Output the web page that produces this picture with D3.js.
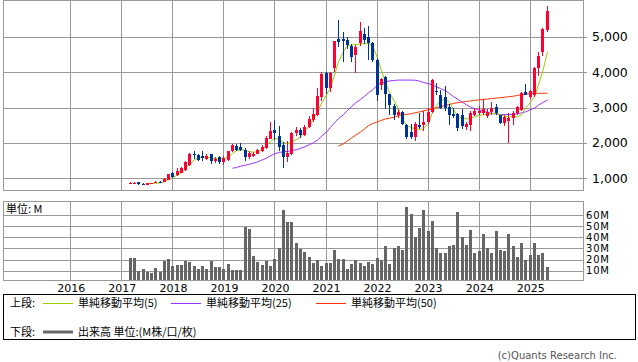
<!DOCTYPE html>
<html>
<head>
<meta charset="utf-8">
<script src="https://cdn.jsdelivr.net/npm/d3@7/dist/d3.min.js"></script>
<style>
  body { margin: 0; background: #fff; }
  svg { display: block; }
  text { font-family: 'DejaVu Sans', sans-serif; fill: #000; }
  .jp { font-family: 'Noto Sans CJK JP', sans-serif; }
</style>
</head>
<body>
<div class="chart"></div>
<script>
'use strict';
// monthly bars, Mar 2017 .. May 2025
var firstMonth = new Date(2017, 2, 1);
var lastMonth = new Date(2025, 4, 1);

var openP = [
  840, 855, 885, 840, 820, 850, 865, 905, 895, 960,
  1150, 1095, 1160, 1240, 1370, 1700, 1660, 1620, 1550, 1690,
  1480, 1590, 1470, 1520, 1760, 1920, 1900, 1810, 1600, 1640,
  1700, 1760, 1860, 2120, 2360, 2210, 1940, 1600, 1680, 2290,
  2380, 2230, 2460, 2650, 2790, 3290, 3990, 3570, 4110, 4930,
  4930, 4910, 4740, 4490, 4820, 5080, 4990, 4820, 4350, 3640,
  3860, 3390, 3050, 2800, 2890, 2510, 2320, 2180, 2510, 2510,
  2600, 2890, 3480, 3360, 3290, 3030, 2820, 2820, 2790, 2460,
  2510, 2790, 2860, 2840, 2750, 2890, 3010, 2790, 2560, 2630,
  2700, 2840, 2930, 3450, 3290, 3360, 4110, 4580, 5200
];
var highP = [
  890, 895, 895, 870, 870, 880, 910, 930, 1000, 1130,
  1190, 1290, 1330, 1500, 1720, 1770, 1700, 1760, 1680, 1700,
  1600, 1640, 1620, 1780, 1960, 1960, 2000, 1870, 1760, 1740,
  1830, 1950, 2200, 2600, 2650, 2480, 2030, 2050, 2300, 2450,
  2420, 2500, 2750, 3000, 3550, 4000, 4000, 4000, 4900, 5480,
  5150, 5000, 4800, 4780, 5430, 5250, 5310, 4850, 4400, 3850,
  3900, 3400, 3100, 2950, 2900, 2550, 2550, 2580, 2850, 2900,
  3000, 3800, 3700, 3500, 3600, 3100, 3000, 2850, 2950, 2600,
  2900, 3000, 3050, 3250, 2950, 3150, 3100, 2800, 2800, 2850,
  2900, 3050, 3450, 3670, 3500, 4150, 4580, 5250, 5880
];
var lowP = [
  830, 845, 820, 800, 810, 840, 855, 870, 890, 950,
  1020, 1060, 1140, 1220, 1360, 1560, 1480, 1480, 1520, 1400,
  1440, 1400, 1380, 1500, 1740, 1760, 1760, 1500, 1560, 1600,
  1680, 1740, 1840, 2100, 2080, 1760, 1280, 1450, 1650, 2200,
  2150, 2200, 2420, 2600, 2750, 3200, 3400, 3450, 4000, 4720,
  4300, 4650, 4300, 3970, 4750, 4800, 4350, 4300, 3200, 3500,
  2950, 2800, 2650, 2700, 2500, 2100, 2100, 2060, 2400, 2350,
  2550, 2850, 3350, 2950, 2900, 2500, 2700, 2350, 2400, 2380,
  2350, 2750, 2800, 2800, 2700, 2800, 2800, 2530, 2480, 1990,
  2500, 2800, 2900, 3350, 3250, 3300, 3900, 4450, 5150
];
var closeP = [
  870, 880, 830, 825, 855, 865, 895, 885, 990, 1115,
  1050, 1220, 1285, 1450, 1700, 1680, 1520, 1580, 1640, 1480,
  1560, 1470, 1580, 1760, 1930, 1790, 1810, 1590, 1710, 1680,
  1790, 1900, 2140, 2340, 2270, 1890, 1590, 1720, 2280, 2370,
  2220, 2460, 2670, 2820, 3330, 3950, 3550, 3990, 4885, 4870,
  4900, 4770, 4420, 4720, 5170, 4910, 4820, 4350, 3360, 3810,
  3400, 3075, 2790, 2890, 2540, 2180, 2160, 2540, 2460, 2600,
  2890, 3780, 3450, 2980, 2980, 2790, 2760, 2410, 2480, 2540,
  2840, 2910, 2910, 2950, 2890, 2980, 2840, 2560, 2730, 2700,
  2860, 3030, 3420, 3360, 3480, 4110, 4460, 5240, 5730
];
// volume, millions
var volume = [
  21.3, 21.3, 10, 11.5, 9, 8.2, 12.4, 9, 19, 20.4,
  14.2, 15, 15, 18.7, 17.8, 14.2, 11.5, 14.2, 11.5, 18.7,
  13.3, 13.3, 11.5, 16, 10.6, 10.6, 10.6, 49.4, 47.3, 23.1,
  17.8, 15, 18.7, 14.2, 20.4, 30, 64.3, 53.6, 53.6, 34.8,
  29.4, 26.7, 22.2, 16.9, 19.6, 14.2, 16.9, 16.9, 28.5, 20.4,
  20.4, 11.5, 16, 19.6, 16.9, 14.2, 17.8, 16, 21.3, 19.6,
  32.1, 16, 30, 32.1, 28.5, 67, 60.7, 39.9, 48.2, 64.3,
  45.5, 54.5, 30, 25.8, 25.8, 32.1, 33, 62.8, 40.1, 33,
  46.4, 25.8, 27.6, 42.8, 30, 25.8, 45.5, 28.5, 27.6, 42.8,
  32.1, 22.2, 34.8, 19.6, 24, 34.8, 24, 25.8, 13.3
];
// moving averages as drawn, each starting at the given bar index
var sma5Start = 4;
var sma5 = [
  850, 850, 860, 870, 905, 960, 1020, 1090, 1160, 1260,
  1400, 1520, 1580, 1600, 1600, 1570, 1555, 1555, 1560, 1600,
  1700, 1780, 1810, 1790, 1750, 1740, 1750, 1820, 1930, 2040,
  2130, 2100, 2010, 1980, 2020, 2100, 2160, 2330, 2490, 2660,
  2880, 3120, 3360, 3570, 3920, 4300, 4580, 4760, 4770, 4790,
  4800, 4810, 4810, 4770, 4400, 4050, 3720, 3420, 3180, 2950,
  2680, 2500, 2430, 2400, 2380, 2400, 2560, 2860, 3060, 3200,
  3230, 3150, 2950, 2760, 2690, 2680, 2700, 2740, 2780, 2800,
  2820, 2840, 2840, 2800, 2760, 2740, 2740, 2740, 2790, 2990,
  3150, 3310, 3650, 4000, 4580
];
var sma25Start = 24;
var sma25 = [
  1286, 1305, 1343, 1371, 1400, 1428, 1466, 1524, 1571, 1638,
  1695, 1733, 1752, 1762, 1781, 1809, 1850, 1890, 1950, 2010,
  2080, 2190, 2310, 2440, 2570, 2690, 2800, 2920, 3030, 3130,
  3230, 3320, 3420, 3500, 3640, 3700, 3730, 3755, 3770, 3780,
  3780, 3780, 3780, 3775, 3750, 3710, 3680, 3640, 3590, 3540,
  3480, 3400, 3310, 3240, 3150, 3080, 3020, 2970, 2930, 2900,
  2870, 2840, 2820, 2810, 2805, 2805, 2815, 2830, 2850, 2880,
  2940, 2990, 3070, 3140, 3215
];
var sma50Start = 49;
var sma50 = [
  1910, 1980, 2060, 2140, 2220, 2310, 2400, 2490, 2550, 2600,
  2640, 2680, 2700, 2730, 2780, 2800, 2810, 2830, 2860, 2880,
  2910, 2940, 2970, 3000, 3030, 3060, 3090, 3120, 3140, 3160,
  3175, 3190, 3205, 3220, 3235, 3245, 3258, 3270, 3282, 3295,
  3310, 3325, 3345, 3365, 3385, 3400, 3405, 3405, 3405, 3410
];
var years = [2016, 2017, 2018, 2019, 2020, 2021, 2022, 2023, 2024, 2025];
var priceTicks = [1000, 2000, 3000, 4000, 5000];
var volTicks = [10, 20, 30, 40, 50, 60];
var legendItems = [
  {label: '単純移動平均(5)', color: '#99cc00'},
  {label: '単純移動平均(25)', color: '#9933ff'},
  {label: '単純移動平均(50)', color: '#ff3300'}
];

var upColor = '#ff0033', downColor = '#003399', gridColor = '#999999';
var width = 638, height = 362;
var left = 3, right = 583;
var priceTop = 0, priceBottom = 190;
var volTop = 201, volBottom = 280;

var months = d3.timeMonth.range(firstMonth, d3.timeMonth.offset(lastMonth, 1));
var bars = months.map(function(m, i) {
  return {date: m, o: openP[i], h: highP[i], l: lowP[i], c: closeP[i], v: volume[i]};
});

var x = d3.scaleLinear()
  .domain([2014.6814, 2026.0443])
  .range([left, right]);
function bx(d) {
  return Math.round(x(d.getFullYear() + d.getMonth() / 12));
}
var y = d3.scaleLinear()
  .domain([669, 6047])
  .range([priceBottom, priceTop]);
var yv = d3.scaleLinear()
  .domain([0, 72.5])
  .range([281.8, volTop]);

var svg = d3.select('.chart').append('svg')
  .attr('width', width)
  .attr('height', height);

svg.append('rect').attr('width', width).attr('height', height).attr('fill', '#fff');

var defs = svg.append('defs');
defs.append('clipPath').attr('id', 'clipPrice').append('rect')
  .attr('x', left).attr('y', priceTop).attr('width', right - left).attr('height', priceBottom - priceTop);
defs.append('clipPath').attr('id', 'clipVol').append('rect')
  .attr('x', left).attr('y', volTop).attr('width', right - left).attr('height', volBottom - volTop);

///////////////////////GRID///////////////////////////////
var grid = svg.append('g')
  .attr('stroke', gridColor)
  .attr('stroke-width', 1)
  .attr('shape-rendering', 'crispEdges');

grid.selectAll('.ygrid')
  .data(priceTicks)
  .enter().append('line')
  .attr('x1', left).attr('x2', right + 4)
  .attr('y1', function(d) { return Math.round(y(d)) + 0.5; })
  .attr('y2', function(d) { return Math.round(y(d)) + 0.5; });

grid.selectAll('.vgrid')
  .data(volTicks)
  .enter().append('line')
  .attr('x1', left).attr('x2', right)
  .attr('y1', function(d) { return Math.round(yv(d)) + 0.5; })
  .attr('y2', function(d) { return Math.round(yv(d)) + 0.5; });

grid.selectAll('.xgrid')
  .data(years)
  .enter().append('line')
  .attr('x1', function(d) { return Math.round(x(d)) + 0.5; })
  .attr('x2', function(d) { return Math.round(x(d)) + 0.5; })
  .attr('y1', priceTop).attr('y2', priceBottom);

grid.selectAll('.xgridv')
  .data(years)
  .enter().append('line')
  .attr('x1', function(d) { return Math.round(x(d)) + 0.5; })
  .attr('x2', function(d) { return Math.round(x(d)) + 0.5; })
  .attr('y1', volTop).attr('y2', volBottom);

grid.append('rect')
  .attr('x', left + 0.5).attr('y', priceTop + 0.5)
  .attr('width', right - left).attr('height', priceBottom - priceTop)
  .attr('fill', 'none');
grid.append('rect')
  .attr('x', left + 0.5).attr('y', volTop + 0.5)
  .attr('width', right - left).attr('height', volBottom - volTop)
  .attr('fill', 'none');

///////////////////////AXIS LABELS///////////////////////////////
svg.append('g').selectAll('text')
  .data(priceTicks)
  .enter().append('text')
  .attr('x', 592)
  .attr('y', function(d) { return y(d); })
  .attr('dy', '0.36em')
  .style('font-size', '12.5px')
  .text(d3.format(','));

svg.append('g').selectAll('text')
  .data(volTicks)
  .enter().append('text')
  .attr('x', 586)
  .attr('y', function(d) { return yv(d); })
  .attr('dy', '0.36em')
  .style('font-size', '10px')
  .style('letter-spacing', '0.8px')
  .text(function(d) { return d + 'M'; });

svg.append('g').selectAll('text')
  .data(years)
  .enter().append('text')
  .attr('x', function(d) { return x(d) + 1; })
  .attr('y', 292)
  .attr('text-anchor', 'middle')
  .style('font-size', '11px')
  .text(function(d) { return d; });

svg.append('text')
  .attr('class', 'jp')
  .attr('x', 6)
  .attr('y', 213)
  .style('font-size', '11px')
  .text('単位: M');

///////////////////////VOLUME///////////////////////////////
svg.append('g')
  .attr('clip-path', 'url(#clipVol)')
  .attr('shape-rendering', 'crispEdges')
  .selectAll('rect')
  .data(bars)
  .enter().append('rect')
  .attr('x', function(d) { return bx(d.date) - 1; })
  .attr('width', 3)
  .attr('y', function(d) { return Math.round(yv(d.v)); })
  .attr('height', function(d) { return volBottom - Math.round(yv(d.v)); })
  .attr('fill', '#666666');

///////////////////////MOVING AVERAGES///////////////////////////////
var lines = svg.append('g').attr('clip-path', 'url(#clipPrice)');
function drawSma(values, start, color) {
  var line = d3.line()
    .x(function(d, i) { return bx(months[start + i]) + 0.5; })
    .y(function(d) { return y(d); });
  lines.append('path')
    .datum(values)
    .attr('fill', 'none')
    .attr('stroke', color)
    .attr('stroke-width', 1)
    .attr('d', line);
}
drawSma(sma50, sma50Start, legendItems[2].color);
drawSma(sma25, sma25Start, legendItems[1].color);

///////////////////////CANDLES///////////////////////////////
var candles = svg.append('g')
  .attr('clip-path', 'url(#clipPrice)')
  .attr('shape-rendering', 'crispEdges')
  .selectAll('g')
  .data(bars)
  .enter().append('g');

candles.append('line')
  .attr('x1', function(d) { return bx(d.date) + 0.5; })
  .attr('x2', function(d) { return bx(d.date) + 0.5; })
  .attr('y1', function(d) { return Math.round(y(d.h)); })
  .attr('y2', function(d) { return Math.round(y(d.l)); })
  .attr('stroke', function(d) { return d.c >= d.o ? upColor : downColor; });

candles.append('rect')
  .attr('x', function(d) { return bx(d.date) - 1; })
  .attr('width', 3)
  .attr('y', function(d) { return Math.round(y(Math.max(d.o, d.c))); })
  .attr('height', function(d) {
    return Math.max(1, Math.round(y(Math.min(d.o, d.c))) - Math.round(y(Math.max(d.o, d.c))));
  })
  .attr('fill', function(d) { return d.c >= d.o ? upColor : downColor; });

drawSma(sma5, sma5Start, legendItems[0].color);

///////////////////////LEGEND///////////////////////////////
var legend = svg.append('g');
legend.append('rect')
  .attr('x', 3.5).attr('y', 294.5)
  .attr('width', 632).attr('height', 45)
  .attr('fill', 'none')
  .attr('stroke', '#000');

legend.append('text').attr('class', 'jp')
  .attr('x', 10).attr('y', 307)
  .style('font-size', '11px')
  .text('上段:');

var legendX = [43, 171, 316];
legendItems.forEach(function(item, i) {
  legend.append('line')
    .attr('x1', legendX[i]).attr('x2', legendX[i] + 30)
    .attr('y1', 303.5).attr('y2', 303.5)
    .attr('stroke', item.color);
  legend.append('text').attr('class', 'jp')
    .attr('x', legendX[i] + 35).attr('y', 307)
    .style('font-size', '11px')
    .text(item.label);
});

legend.append('text').attr('class', 'jp')
  .attr('x', 10).attr('y', 336)
  .style('font-size', '11px')
  .text('下段:');
legend.append('line')
  .attr('x1', 43).attr('x2', 73)
  .attr('y1', 332).attr('y2', 332)
  .attr('stroke', '#666666')
  .attr('stroke-width', 3);
legend.append('text').attr('class', 'jp')
  .attr('x', 78).attr('y', 336)
  .style('font-size', '11px')
  .text('出来高 単位:(M株/口/枚)');

svg.append('text')
  .attr('x', 617).attr('y', 359)
  .attr('text-anchor', 'end')
  .style('font-size', '10px')
  .style('fill', '#555')
  .text('(c)Quants Research Inc.');
</script>
</body>
</html>
